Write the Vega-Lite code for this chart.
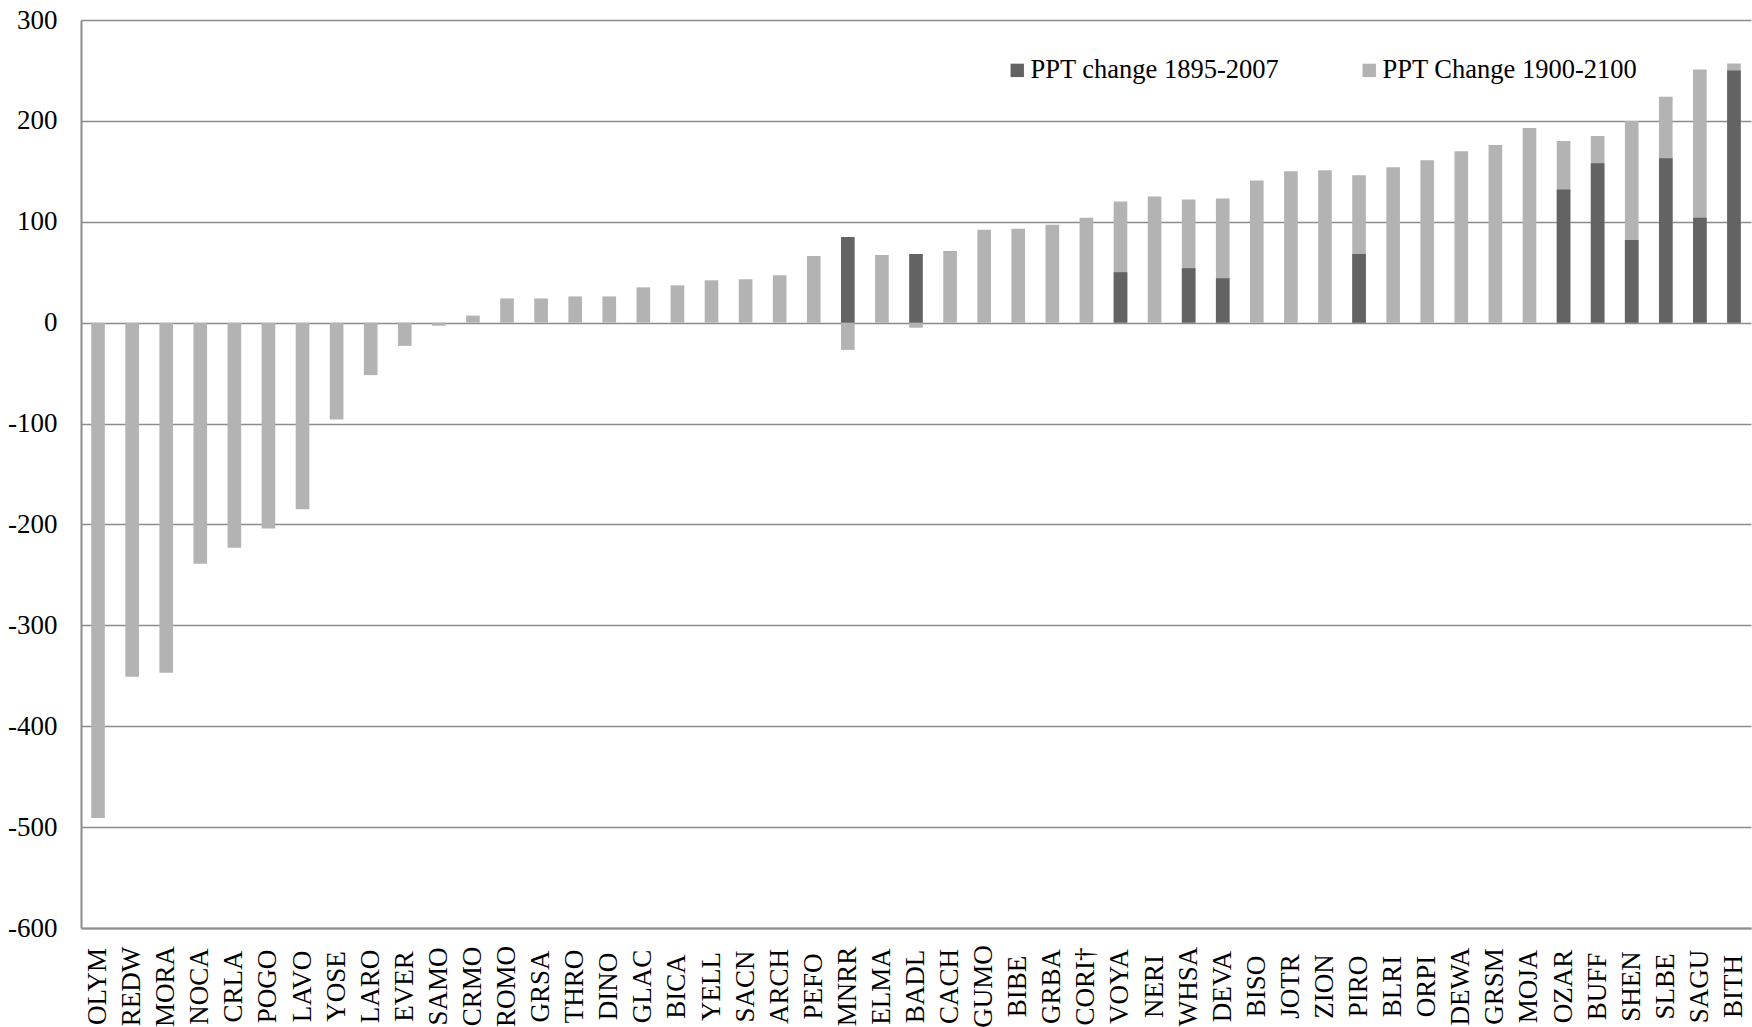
{
  "$schema": "https://vega.github.io/schema/vega-lite/v6.json",
  "width": 1670,
  "height": 908,
  "autosize": {"type": "none"},
  "padding": {"left": 81, "top": 20, "right": 1, "bottom": 99},
  "background": "white",
  "config": {
    "view": {"stroke": null},
    "font": "Liberation Serif",
    "axis": {"labelFont": "Liberation Serif"},
    "legend": {"labelFont": "Liberation Serif"}
  },
  "data": {
    "values": [
      {"park": "OLYM", "series": "PPT Change 1900-2100", "value": -491},
      {"park": "REDW", "series": "PPT Change 1900-2100", "value": -351},
      {"park": "MORA", "series": "PPT Change 1900-2100", "value": -347},
      {"park": "NOCA", "series": "PPT Change 1900-2100", "value": -239},
      {"park": "CRLA", "series": "PPT Change 1900-2100", "value": -223},
      {"park": "POGO", "series": "PPT Change 1900-2100", "value": -204},
      {"park": "LAVO", "series": "PPT Change 1900-2100", "value": -185},
      {"park": "YOSE", "series": "PPT Change 1900-2100", "value": -96},
      {"park": "LARO", "series": "PPT Change 1900-2100", "value": -52},
      {"park": "EVER", "series": "PPT Change 1900-2100", "value": -23},
      {"park": "SAMO", "series": "PPT Change 1900-2100", "value": -3},
      {"park": "CRMO", "series": "PPT Change 1900-2100", "value": 7},
      {"park": "ROMO", "series": "PPT Change 1900-2100", "value": 24},
      {"park": "GRSA", "series": "PPT Change 1900-2100", "value": 24},
      {"park": "THRO", "series": "PPT Change 1900-2100", "value": 26},
      {"park": "DINO", "series": "PPT Change 1900-2100", "value": 26},
      {"park": "GLAC", "series": "PPT Change 1900-2100", "value": 35},
      {"park": "BICA", "series": "PPT Change 1900-2100", "value": 37},
      {"park": "YELL", "series": "PPT Change 1900-2100", "value": 42},
      {"park": "SACN", "series": "PPT Change 1900-2100", "value": 43},
      {"park": "ARCH", "series": "PPT Change 1900-2100", "value": 47},
      {"park": "PEFO", "series": "PPT Change 1900-2100", "value": 66},
      {"park": "MNRR", "series": "PPT Change 1900-2100", "value": -27},
      {"park": "ELMA", "series": "PPT Change 1900-2100", "value": 67},
      {"park": "BADL", "series": "PPT Change 1900-2100", "value": -5},
      {"park": "CACH", "series": "PPT Change 1900-2100", "value": 71},
      {"park": "GUMO", "series": "PPT Change 1900-2100", "value": 92},
      {"park": "BIBE", "series": "PPT Change 1900-2100", "value": 93},
      {"park": "GRBA", "series": "PPT Change 1900-2100", "value": 97},
      {"park": "CORI†", "series": "PPT Change 1900-2100", "value": 104},
      {"park": "VOYA", "series": "PPT Change 1900-2100", "value": 120},
      {"park": "NERI", "series": "PPT Change 1900-2100", "value": 125},
      {"park": "WHSA", "series": "PPT Change 1900-2100", "value": 122},
      {"park": "DEVA", "series": "PPT Change 1900-2100", "value": 123},
      {"park": "BISO", "series": "PPT Change 1900-2100", "value": 141},
      {"park": "JOTR", "series": "PPT Change 1900-2100", "value": 150},
      {"park": "ZION", "series": "PPT Change 1900-2100", "value": 151},
      {"park": "PIRO", "series": "PPT Change 1900-2100", "value": 146},
      {"park": "BLRI", "series": "PPT Change 1900-2100", "value": 154},
      {"park": "ORPI", "series": "PPT Change 1900-2100", "value": 161},
      {"park": "DEWA", "series": "PPT Change 1900-2100", "value": 170},
      {"park": "GRSM", "series": "PPT Change 1900-2100", "value": 176},
      {"park": "MOJA", "series": "PPT Change 1900-2100", "value": 193},
      {"park": "OZAR", "series": "PPT Change 1900-2100", "value": 180},
      {"park": "BUFF", "series": "PPT Change 1900-2100", "value": 185},
      {"park": "SHEN", "series": "PPT Change 1900-2100", "value": 200},
      {"park": "SLBE", "series": "PPT Change 1900-2100", "value": 224},
      {"park": "SAGU", "series": "PPT Change 1900-2100", "value": 251},
      {"park": "BITH", "series": "PPT Change 1900-2100", "value": 257},
      {"park": "MNRR", "series": "PPT change 1895-2007", "value": 85},
      {"park": "BADL", "series": "PPT change 1895-2007", "value": 68},
      {"park": "VOYA", "series": "PPT change 1895-2007", "value": 50},
      {"park": "WHSA", "series": "PPT change 1895-2007", "value": 54},
      {"park": "DEVA", "series": "PPT change 1895-2007", "value": 44},
      {"park": "PIRO", "series": "PPT change 1895-2007", "value": 68},
      {"park": "OZAR", "series": "PPT change 1895-2007", "value": 132},
      {"park": "BUFF", "series": "PPT change 1895-2007", "value": 158},
      {"park": "SHEN", "series": "PPT change 1895-2007", "value": 82},
      {"park": "SLBE", "series": "PPT change 1895-2007", "value": 163},
      {"park": "SAGU", "series": "PPT change 1895-2007", "value": 104},
      {"park": "BITH", "series": "PPT change 1895-2007", "value": 250}
    ]
  },
  "mark": {"type": "bar"},
  "encoding": {
    "x": {
      "field": "park",
      "type": "nominal",
      "sort": ["OLYM","REDW","MORA","NOCA","CRLA","POGO","LAVO","YOSE","LARO","EVER","SAMO","CRMO","ROMO","GRSA","THRO","DINO","GLAC","BICA","YELL","SACN","ARCH","PEFO","MNRR","ELMA","BADL","CACH","GUMO","BIBE","GRBA","CORI†","VOYA","NERI","WHSA","DEVA","BISO","JOTR","ZION","PIRO","BLRI","ORPI","DEWA","GRSM","MOJA","OZAR","BUFF","SHEN","SLBE","SAGU","BITH"],
      "scale": {"paddingInner": 0.6, "paddingOuter": 0.3},
      "axis": {
        "title": null,
        "labelAngle": -90,
        "labelAlign": "center",
        "labelBaseline": "middle",
        "labelPadding": 58,
        "labelFont": "Liberation Serif",
        "labelFontSize": 27,
        "labelColor": "#000000",
        "labelOverlap": false,
        "labelLimit": 300,
        "ticks": false,
        "tickSize": 0,
        "grid": false,
        "domainColor": "#8c8c8c",
        "domainWidth": 2
      }
    },
    "y": {
      "field": "value",
      "type": "quantitative",
      "stack": null,
      "scale": {"domain": [-600, 300], "nice": false},
      "axis": {
        "title": null,
        "values": [-600, -500, -400, -300, -200, -100, 0, 100, 200, 300],
        "labelExpr": "toString(datum.value)",
        "labelFont": "Liberation Serif",
        "labelFontSize": 27,
        "labelColor": "#000000",
        "labelPadding": 24,
        "ticks": false,
        "tickSize": 0,
        "grid": true,
        "gridColor": "#8c8c8c",
        "gridWidth": 1.5,
        "domainColor": "#8c8c8c",
        "domainWidth": 2
      }
    },
    "color": {
      "field": "series",
      "type": "nominal",
      "scale": {
        "domain": ["PPT change 1895-2007", "PPT Change 1900-2100"],
        "range": ["#636363", "#b3b3b3"]
      },
      "legend": {
        "title": null,
        "orient": "none",
        "legendX": 923,
        "legendY": 37,
        "direction": "horizontal",
        "symbolType": "square",
        "symbolSize": 180,
        "symbolStrokeWidth": 0,
        "labelFont": "Liberation Serif",
        "labelFontSize": 26.5,
        "labelColor": "#000000",
        "labelOffset": 0,
        "labelLimit": 0,
        "columnPadding": 76,
        "padding": 0
      }
    }
  }
}
